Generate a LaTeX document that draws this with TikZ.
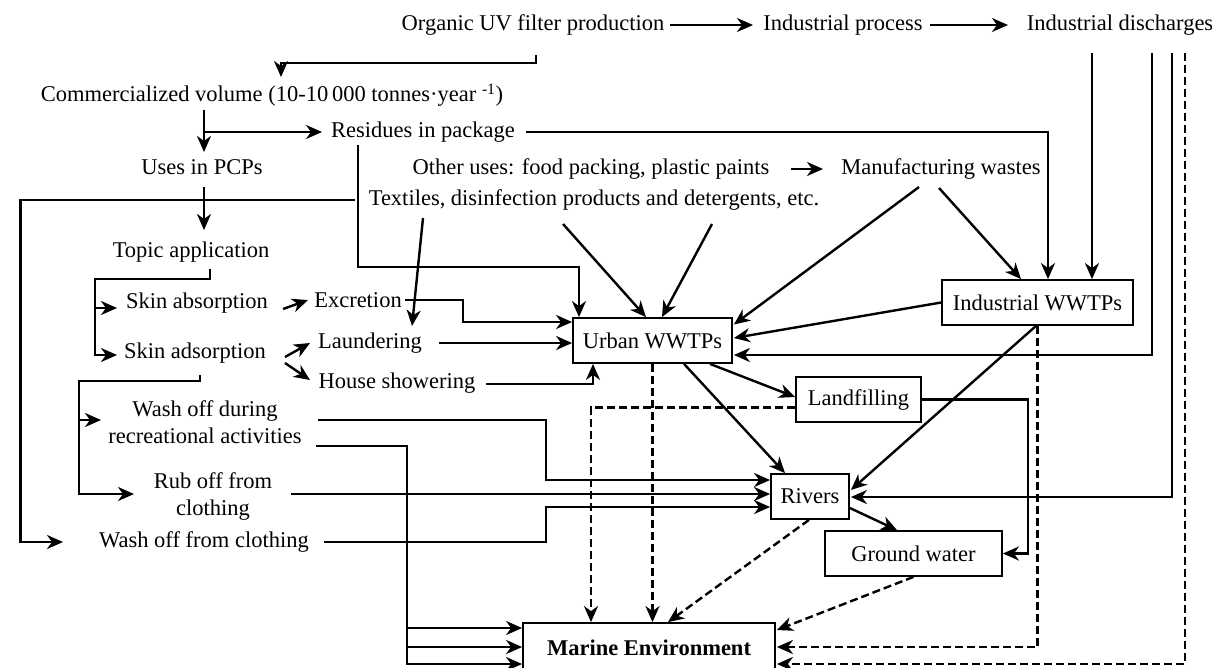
\documentclass[tikz,border=0pt]{standalone}
\usepackage{fontspec}
\setmainfont{Liberation Serif}
\usetikzlibrary{arrows.meta}
\tikzset{
    text-label/.style = {inner sep=0pt, align=center, font=\fontsize{22.5}{27}\selectfont},
    plant-box/.style = {draw, line width=1.8pt, inner sep=0pt, minimum height=45pt, font=\fontsize{22.5}{27}\selectfont},
    flow-line/.style = {line width=2.4pt},
    flow-arrow/.style = {flow-line, -{Stealth[length=16pt, width=14pt, inset=5pt]}},
    dashed-arrow/.style = {flow-arrow, dash pattern=on 8pt off 4pt},
}

\begin{document}
\begin{tikzpicture}[x=1pt, y=-1pt]
\useasboundingbox (0,0) rectangle (1225,667);

\node[text-label] (org) at (533,25) {Organic UV filter production};
\node[text-label] (proc) at (843,25) {Industrial process};
\node[text-label] (disch) at (1120,25) {Industrial discharges};
\node[text-label] (comm) at (272,95) {Commercialized volume (10-10\,000 tonnes·year \textsuperscript{-1})};
\node[text-label] (resid) at (423,132) {Residues in package};
\node[text-label] (uses) at (202,167) {Uses in PCPs};
\node[text-label] (other) at (591,169) {Other uses: food packing, plastic paints};
\node[text-label] (manuf) at (941,169) {Manufacturing wastes};
\node[text-label] (textil) at (594,200) {Textiles, disinfection products and detergents, etc.};
\node[text-label] (topic) at (191,252) {Topic application};
\node[text-label] (absorp) at (197,303) {Skin absorption};
\node[text-label] (adsorp) at (195,353) {Skin adsorption};
\node[text-label] (excr) at (358,300) {Excretion};
\node[text-label] (laund) at (370,343) {Laundering};
\node[text-label] (shower) at (397,383) {House showering};
\node[text-label] (recr) at (205,422) {Wash off during\\recreational activities};
\node[text-label] (rub) at (213,496) {Rub off from\\clothing};
\node[text-label] (washcl) at (204,542) {Wash off from clothing};

\node[plant-box, minimum width=159pt] (urban) at (652.5,340.5) {Urban WWTPs};
\node[plant-box, minimum width=191pt] (indw) at (1037.5,302.5) {Industrial WWTPs};
\node[plant-box, minimum width=125pt] (landf) at (858.5,399.5) {Landfilling};
\node[plant-box, minimum width=78pt] (rivers) at (810,496.5) {Rivers};
\node[plant-box, minimum width=177pt] (ground) at (913.5,553.5) {Ground water};
\node[plant-box, minimum width=252pt, minimum height=50pt, font=\fontsize{22.5}{27}\selectfont\bfseries] (marine) at (649,648) {Marine Environment};

\draw[flow-arrow] ([shift={(137,0)}]org.center) -- ([shift={(-90,0)}]proc.center);
\draw[flow-arrow] ([shift={(87,0)}]proc.center) -- ([shift={(-112,0)}]disch.center);
\draw[flow-arrow] ([shift={(3,30)}]org.center) -- ++(0,8) -| ([shift={(9,-18)}]comm.center);
\draw[flow-arrow] ([shift={(-68,15)}]comm.center) -- ([shift={(2,-15)}]uses.center);
\draw[flow-arrow] ([shift={(-68,37)}]comm.center) -- ([shift={(-101,0)}]resid.center);
\draw[flow-arrow] ([shift={(103,0)}]resid.center) -| ([xshift=10.5pt]indw.north);
\draw[flow-arrow] ([shift={(-65,13)}]resid.center) -- ++(0,122) -| ([xshift=-73.5pt]urban.north);
\draw[flow-arrow] ([shift={(2,20)}]uses.center) -- ([shift={(13,-22)}]topic.center);
\draw[flow-arrow] ([xshift=-14pt]textil.west) -- ++(-334,0) |- ([shift={(-141,0)}]washcl.center);

\draw[flow-arrow] ([shift={(19,17)}]topic.center) -- ++(0,10) -| ([shift={(-100,2)}]adsorp.center) -- ([shift={(-78,2)}]adsorp.center);
\draw[flow-arrow] ([shift={(-102,5)}]absorp.center) -- ([shift={(-80,5)}]absorp.center);
\draw[flow-arrow] ([shift={(86,6)}]absorp.center) -- ([shift={(-50,0)}]excr.center);
\draw[flow-arrow] ([shift={(90,4)}]adsorp.center) -- ([shift={(-60,0)}]laund.center);
\draw[flow-arrow] ([shift={(90,10)}]adsorp.center) -- ([shift={(-87,-3)}]shower.center);
\draw[flow-arrow] ([xshift=3pt]excr.east) -- ++(58,0) |- ([shift={(0,-18.5)}]urban.west);
\draw[flow-arrow] ([shift={(69,0)}]laund.center) -- ([shift={(0,2.5)}]urban.west);
\draw[flow-arrow] ([shift={(89,1)}]shower.center) -| ([xshift=-59.5pt]urban.south);
\draw[flow-arrow] ([shift={(-171,18)}]textil.center) -- ([shift={(42,-17)}]laund.center);
\draw[flow-arrow] ([shift={(-31,24)}]textil.center) -- ([xshift=-6.5pt]urban.north);
\draw[flow-arrow] ([shift={(118,24)}]textil.center) -- ([xshift=9.5pt]urban.north);

\draw[flow-arrow] ([shift={(200,0)}]other.center) -- ([shift={(-118,0)}]manuf.center);
\draw[flow-arrow] ([shift={(-22,18)}]manuf.center) -- ([shift={(1,-16)}]urban.east);
\draw[flow-arrow] ([shift={(-2,19)}]manuf.center) -- ([xshift=-16.5pt]indw.north);
\draw[flow-arrow] (indw.west) -- ([shift={(1,-2.5)}]urban.east);
\draw[flow-arrow] ([shift={(-28,28)}]disch.center) -- ([xshift=54.5pt]indw.north);
\draw[flow-arrow] ([shift={(32,28)}]disch.center) |- ([shift={(1,14.5)}]urban.east);
\draw[flow-arrow] ([shift={(52,28)}]disch.center) |- ([shift={(1,0.5)}]rivers.east);
\draw[dashed-arrow] ([shift={(65,28)}]disch.center) |- ([shift={(1,16)}]marine.east);
\draw[flow-arrow] ([xshift=-1.5pt]indw.south) -- ([shift={(1,-6.5)}]rivers.east);
\draw[dashed-arrow] (indw.south) |- ([shift={(1,-1)}]marine.east);

\draw[flow-arrow] ([xshift=57.5pt]urban.south) -- ([shift={(0,-2.5)}]landf.west);
\draw[flow-arrow] ([xshift=31.5pt]urban.south) -- ([xshift=-25pt]rivers.north);
\draw[dashed-arrow] (urban.south) -- (urban.south |- marine.north);
\draw[dashed-arrow] ([shift={(0,8)}]landf.west) -| ([xshift=-58pt]marine.north);
\draw[flow-arrow] (landf.east) -- ++(106,0) |- (ground.east);
\draw[flow-arrow] ([shift={(0,11.5)}]rivers.east) -- ([xshift=-16.5pt]ground.north);
\draw[dashed-arrow] ([xshift=-1pt]rivers.south) -- ([xshift=19pt]marine.north);
\draw[dashed-arrow] (ground.south) -- ([shift={(1,-18)}]marine.east);

\draw[flow-arrow] ([shift={(5,22)}]adsorp.center) -- ++(0,6) -| ([shift={(-134,-2)}]rub.center) -- ([shift={(-79,-2)}]rub.center);
\draw[flow-arrow] ([shift={(-126,-2)}]recr.center) -- ([shift={(-104,-2)}]recr.center);
\draw[flow-arrow] ([shift={(113,-2)}]recr.center) -- ++(228,0) |- ([shift={(0,-16.5)}]rivers.west);
\draw[flow-arrow] ([shift={(111,24)}]recr.center) -- ++(91,0) |- ([shift={(0,-20)}]marine.west);
\draw[flow-arrow] ([shift={(78,-2)}]rub.center) -- ([shift={(0,-2.5)}]rivers.west);
\draw[flow-arrow] ([shift={(194,-2)}]rub.center) |- ([shift={(0,-1)}]marine.west);
\draw[flow-arrow] ([shift={(120,0)}]washcl.center) -- ++(222,0) |- ([shift={(0,10.5)}]rivers.west);
\draw[flow-arrow] ([shift={(203,0)}]washcl.center) |- ([shift={(0,16)}]marine.west);
\end{tikzpicture}
\end{document}
